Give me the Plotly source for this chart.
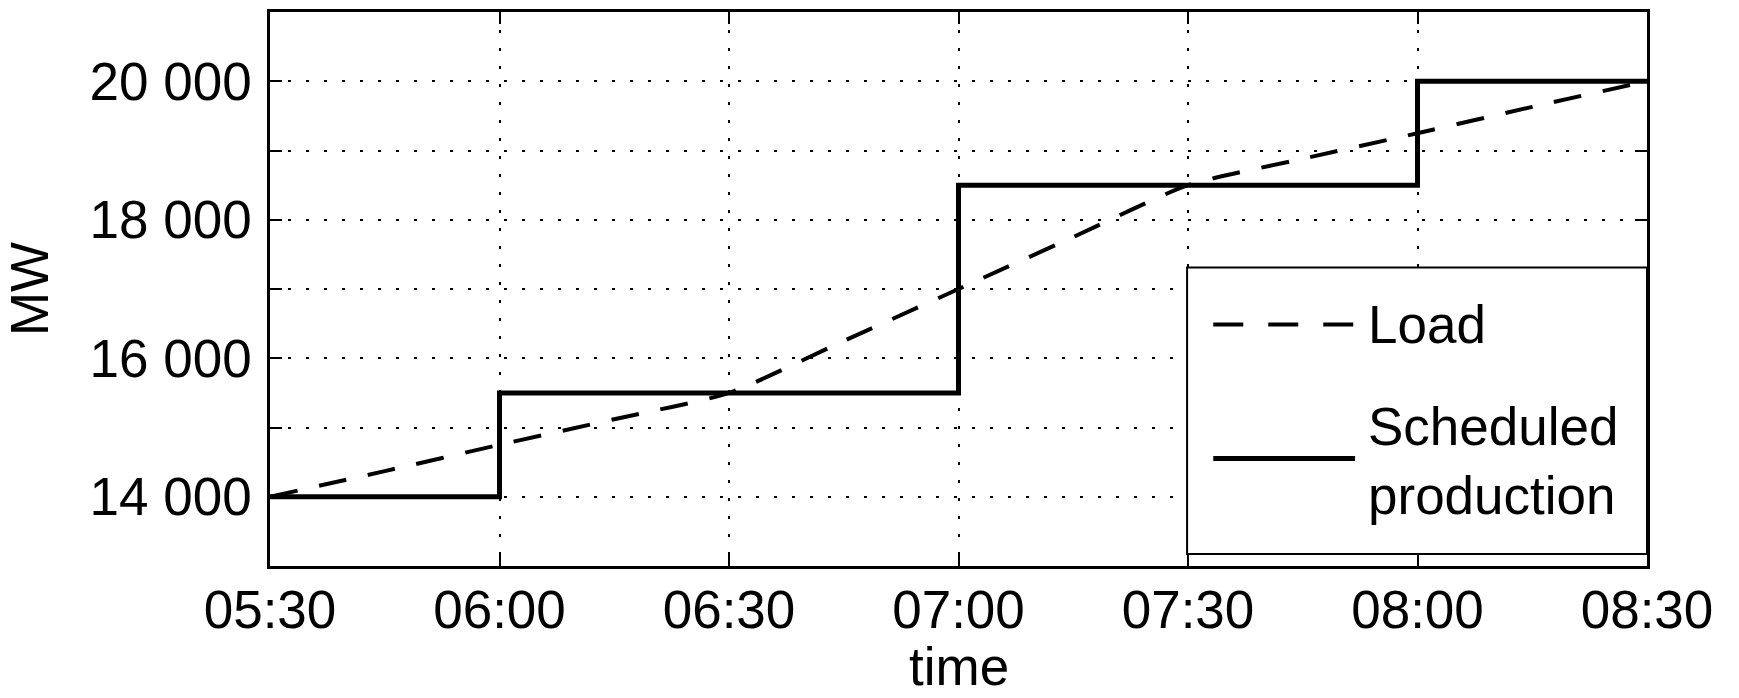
import plotly.graph_objects as go

# ---- data ----
load_times = ["05:30", "05:45", "06:00", "06:15", "06:30", "06:45", "07:00",
              "07:15", "07:30", "07:45", "08:00", "08:15", "08:30"]
load_mw = [14000, 14370, 14750, 15120, 15500, 16250, 17000,
           17750, 18500, 18880, 19250, 19630, 20000]

sched_times = ["05:30", "06:00", "07:00", "08:00", "08:30"]
sched_mw = [14000, 15500, 18500, 20000, 20000]

y_tickvals = [13000, 14000, 15000, 16000, 17000, 18000, 19000, 20000, 21000]
y_ticktext = ["", "14 000", "", "16 000", "", "18 000", "", "20 000", ""]
x_ticklabels = ["05:30", "06:00", "06:30", "07:00", "07:30", "08:00", "08:30"]

DAY = "2000-01-01 "
def ts(t):
    return DAY + t + ":00"

FONT = "Liberation Sans, Arial, sans-serif"
FS = 53

fig = go.Figure()
fig.add_trace(go.Scatter(
    x=[ts(t) for t in load_times], y=load_mw, mode="lines", name="Load",
    line=dict(color="black", width=4, dash="28px,22px", shape="spline", smoothing=0.6),
    showlegend=False))
fig.add_trace(go.Scatter(
    x=[ts(t) for t in sched_times], y=sched_mw, mode="lines", name="Scheduled production",
    line=dict(color="black", width=5, shape="hv"),
    showlegend=False))

# legend drawn in paper coordinates
lx0, lx1, ly0, ly1 = 0.666, 1.0, 0.0215, 0.5386
fig.add_shape(type="rect", xref="paper", yref="paper", x0=lx0, x1=lx1, y0=ly0, y1=ly1,
              line=dict(color="black", width=2), fillcolor="white", layer="above")
fig.add_shape(type="line", xref="paper", yref="paper", x0=0.685, x1=0.788, y0=0.436, y1=0.436,
              line=dict(color="black", width=4, dash="30px,25px"), layer="above")
fig.add_shape(type="line", xref="paper", yref="paper", x0=0.685, x1=0.788, y0=0.194, y1=0.194,
              line=dict(color="black", width=5), layer="above")
fig.add_annotation(xref="paper", yref="paper", x=0.796, y=0.436, text="Load",
                   showarrow=False, xanchor="left", yanchor="middle",
                   font=dict(family=FONT, size=FS, color="black"))
fig.add_annotation(xref="paper", yref="paper", x=0.796, y=0.19, text="Scheduled<br>production",
                   showarrow=False, xanchor="left", yanchor="middle", align="left",
                   font=dict(family=FONT, size=FS, color="black"))
# x-axis title
fig.add_annotation(xref="paper", yref="paper", x=0.5, y=-0.182, text="time",
                   showarrow=False, xanchor="center", yanchor="middle",
                   font=dict(family=FONT, size=FS, color="black"))

fig.update_layout(
    width=1739, height=698,
    margin=dict(l=270, r=92, t=9, b=132),
    paper_bgcolor="white", plot_bgcolor="white",
    font=dict(family=FONT, size=FS, color="black"),
    showlegend=False,
)
fig.update_xaxes(
    type="date", range=[ts("05:30"), ts("08:30")],
    tickvals=[ts(t) for t in x_ticklabels], ticktext=x_ticklabels,
    showgrid=True, gridcolor="black", gridwidth=1.5, griddash="3px,15px",
    showline=True, linecolor="black", linewidth=2.5, mirror="ticks",
    ticks="inside", ticklen=12, tickwidth=2, tickcolor="black",
    ticklabelstandoff=-4,
    zeroline=False,
)
fig.update_yaxes(
    range=[13000, 21000], tickvals=y_tickvals, ticktext=y_ticktext,
    showgrid=True, gridcolor="black", gridwidth=1.5, griddash="3px,15px",
    showline=True, linecolor="black", linewidth=2.5, mirror="ticks",
    ticks="inside", ticklen=12, tickwidth=2, tickcolor="black",
    ticklabelstandoff=5,
    zeroline=False,
    title=dict(text="MW", standoff=38, font=dict(family=FONT, size=FS)),
)

fig.write_html("out.html",
               config={"displayModeBar": False},
               post_script="document.body.style.margin='0';document.body.style.overflow='hidden';")
